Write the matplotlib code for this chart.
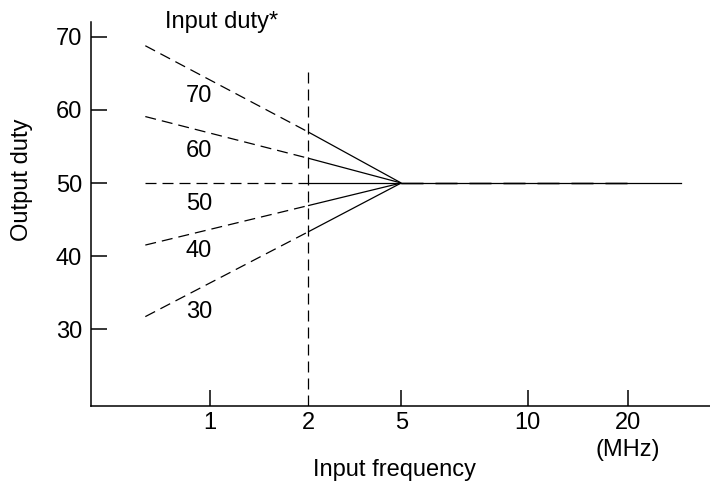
import numpy as np
import matplotlib
matplotlib.use("Agg")
import matplotlib.pyplot as plt
import matplotlib.transforms as mtransforms

plt.rcParams['font.family'] = ['Liberation Sans', 'DejaVu Sans']
plt.rcParams['font.size'] = 17

# input duty curves (output duty vs input frequency)
duty_labels = ['70', '60', '50', '40', '30']
duty_start = [68.8, 59.1, 50.0, 41.5, 31.7]   # output duty at the low-frequency end
duty_at_2mhz = [57.0, 53.4, 50.0, 46.9, 43.3]  # output duty at 2 MHz
duty_at_5mhz = [50.0, 50.0, 50.0, 50.0, 50.0]  # all converge at 5 MHz
duty_label_y = [61.1, 53.6, 46.3, 39.9, 31.5]

freq_labels = ['1', '2', '5', '10', '20']
# schematic (non-log) frequency axis: place of each labelled frequency
freq_pos = [1.0, 2.0, 2.95, 4.24, 5.26]
x_start = 0.34   # left end of the curves
x_end = 5.8      # right end of the 50 % line
label_x = 0.885

y_ticks = [30, 40, 50, 60, 70]

fig = plt.figure(figsize=(7.1, 4.88), dpi=100)
ax = fig.add_axes([91/710, 1-405.7/488, 1-91/710, (405.7-22)/488])

dash = (0, (8.8, 4.8))
for i in range(len(duty_labels)):
    ax.plot([x_start, freq_pos[1]], [duty_start[i], duty_at_2mhz[i]],
            color='black', lw=0.9, linestyle=dash)
    ax.plot([freq_pos[1], freq_pos[2]], [duty_at_2mhz[i], duty_at_5mhz[i]],
            color='black', lw=0.9, solid_capstyle='butt')
    ax.text(label_x, duty_label_y[i], duty_labels[i], ha='center', va='baseline')

# flat 50 % region above 5 MHz
ax.plot([freq_pos[2], 5.35], [50, 50], color='0.6', lw=1.8, linestyle=dash, zorder=1)
ax.plot([freq_pos[2], x_end], [50, 50], color='black', lw=0.9, zorder=2)

# boundary at 2 MHz
ax.plot([freq_pos[1], freq_pos[1]], [19.5, 66.0], color='black', lw=0.9, linestyle=dash)

ax.text(1.12, 71.2, 'Input duty*', ha='center', va='baseline')

ax.set_xlim(-0.214, 6.10)
ax.set_ylim(19.5, 72.05)
ax.set_xticks(freq_pos)
ax.set_xticklabels(freq_labels)
ax.set_yticks(y_ticks)
ax.tick_params(axis='both', direction='in', length=11.5, width=1.1, color='black')
ax.tick_params(axis='x', pad=4.6)
ax.tick_params(axis='y', pad=6.3)
ax.xaxis.get_major_ticks()[1].tick1line.set_visible(False)

for side in ['top', 'right']:
    ax.spines[side].set_visible(False)
for side in ['left', 'bottom']:
    ax.spines[side].set_linewidth(1.1)

trans = mtransforms.blended_transform_factory(ax.transData, ax.transAxes)
ax.annotate('(MHz)', xy=(freq_pos[4], 0), xycoords=trans, xytext=(0, -32),
            textcoords='offset points', ha='center', va='center')

ax.set_xlabel('Input frequency')
ax.xaxis.set_label_coords(0.49, -0.1676)
ax.xaxis.label.set_va('center')
ax.set_ylabel('Output duty')
ax.yaxis.set_label_coords(-0.1115, 0.588)
ax.yaxis.label.set_va('center')

plt.savefig('out.png', dpi=100)
